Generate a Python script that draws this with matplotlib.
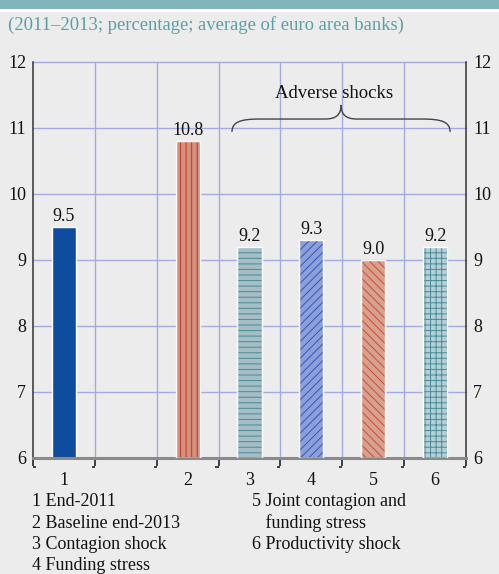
import numpy as np
import matplotlib
matplotlib.use("Agg")
import matplotlib.pyplot as plt
from matplotlib.patches import Rectangle, PathPatch
from matplotlib.path import Path
from matplotlib.transforms import blended_transform_factory

# Capital ratio scenarios (percentage), one empty slot after end-2011
labels = ["1", "", "2", "3", "4", "5", "6"]
values = [9.5, None, 10.8, 9.2, 9.3, 9.0, 9.2]
face_colors = ["#0f4c9e", None, "#d5917b", "#a5bdc5", "#8a9fdc", "#d9a08e", "#b3cfd7"]
hatch_colors = [None, None, "#b63a2a", "#4a8b97", "#3a55b0", "#c0503a", "#4a8b97"]
hatches = [None, None, "|||", "---", "////", "\\\\\\\\", "+++"]
legend_left = ["1 End-2011", "2 Baseline end-2013", "3 Contagion shock", "4 Funding stress"]
legend_right = ["5 Joint contagion and", "   funding stress", "6 Productivity shock"]
yticks = [6, 7, 8, 9, 10, 11, 12]

BG = "#ececec"
GRID = "#a3aadf"
SERIF = ["Liberation Serif", "DejaVu Serif"]
FS = 13
plt.rcParams["font.family"] = SERIF
plt.rcParams["hatch.linewidth"] = 0.7

fig = plt.figure(figsize=(4.99, 5.74), dpi=100, facecolor=BG)

# header band
fig.patches.append(Rectangle((0, 1 - 9 / 574), 1, 9 / 574, transform=fig.transFigure,
                             facecolor="#80b5bb", edgecolor="none", zorder=0))
fig.patches.append(Rectangle((0, 1 - 11.5 / 574), 1, 2.5 / 574, transform=fig.transFigure,
                             facecolor="white", edgecolor="none", zorder=0))
fig.text(0.016, 1 - 25 / 574, "(2011\u20132013; percentage; average of euro area banks)",
         color="#5a9fa8", fontsize=13.4, va="center", ha="left")

ax = fig.add_axes([33 / 499, 1 - 458 / 574, (466 - 33) / 499, (458 - 62) / 574])
ax.set_facecolor(BG)

n = len(labels)
x = np.arange(n) + 0.5
ax.set_xlim(0, n)
ax.set_ylim(6, 12)

# grid
for b in range(1, n):
    ax.axvline(b, color=GRID, lw=1.0, zorder=0.5)
for yv in yticks[1:]:
    ax.axhline(yv, color=GRID, lw=1.0, zorder=0.5, clip_on=False)

w = 0.39
for xi, v, fc, hc, h in zip(x, values, face_colors, hatch_colors, hatches):
    if v is None:
        continue
    if h is None:
        ax.bar(xi, v - 6, bottom=6, width=w, color=fc, edgecolor="white", lw=1.0, zorder=2)
    else:
        ax.bar(xi, v - 6, bottom=6, width=w, color=fc, edgecolor=hc, hatch=h, lw=0, zorder=2)
        ax.bar(xi, v - 6, bottom=6, width=w, fill=False, edgecolor="white", lw=1.0, zorder=3)
    ax.annotate(f"{v:.1f}", (xi, v), xytext=(0, 1.5), textcoords="offset points",
                ha="center", va="bottom", fontsize=FS, color="#111111")

# spines
ax.spines["top"].set_visible(False)
for s in ["left", "right"]:
    ax.spines[s].set_color("#333333")
    ax.spines[s].set_linewidth(1.1)
ax.spines["bottom"].set_color("#8a8a8a")
ax.spines["bottom"].set_linewidth(2.2)

ax.set_yticks(yticks)
ax.tick_params(axis="y", length=0, labelsize=FS, labelright=True, pad=5, labelcolor="#111111")

ax.set_xticks(np.arange(n + 1))
ax.set_xticklabels([])
ax.set_xticks(x, minor=True)
ax.set_xticklabels(labels, minor=True)
ax.tick_params(axis="x", which="major", direction="out", length=6, width=1.2, color="#222222")
ax.tick_params(axis="x", which="minor", length=0, labelsize=FS, pad=10, labelcolor="#111111")

# small feet on the x-axis ticks
tr = blended_transform_factory(ax.transData, ax.transAxes)
foot_y = -8.5 / 396
for b in range(n + 1):
    d = 0.05 if b == 0 else -0.05
    ax.plot([b, b + d], [foot_y, foot_y], color="#222222", lw=1.2, transform=tr,
            clip_on=False, solid_capstyle="butt")

# brace over the adverse scenarios
xl, xc, xr = 3.217, 4.98, 6.743
yb, ym, yt = 10.94, 11.136, 11.35
left = [(xl, yb), (xl, 11.09), (xl + 0.13, ym), (xl + 0.45, ym),
        (xc - 0.26, ym),
        (xc - 0.08, ym), (xc, 11.2), (xc, yt)]
right = [(2 * xc - px, py) for px, py in left]
codes = [Path.MOVETO, Path.CURVE4, Path.CURVE4, Path.CURVE4, Path.LINETO,
         Path.CURVE4, Path.CURVE4, Path.CURVE4]
for pts in (left, right):
    ax.add_patch(PathPatch(Path(pts, codes), facecolor="none", edgecolor="#444444", lw=1.0, zorder=4))
ax.text(4.86, 11.52, "Adverse shocks", ha="center", va="center", fontsize=13.5, color="#111111")

# legend text
y0 = 1 - 502 / 574
dy = 21.3 / 574
for i, t in enumerate(legend_left):
    fig.text(32 / 499, y0 - i * dy, t, fontsize=FS, va="center", ha="left", color="#111111")
for i, t in enumerate(legend_right):
    fig.text(252 / 499, y0 - i * dy, t, fontsize=FS, va="center", ha="left", color="#111111")

fig.savefig("out.png", dpi=100, facecolor=BG)
